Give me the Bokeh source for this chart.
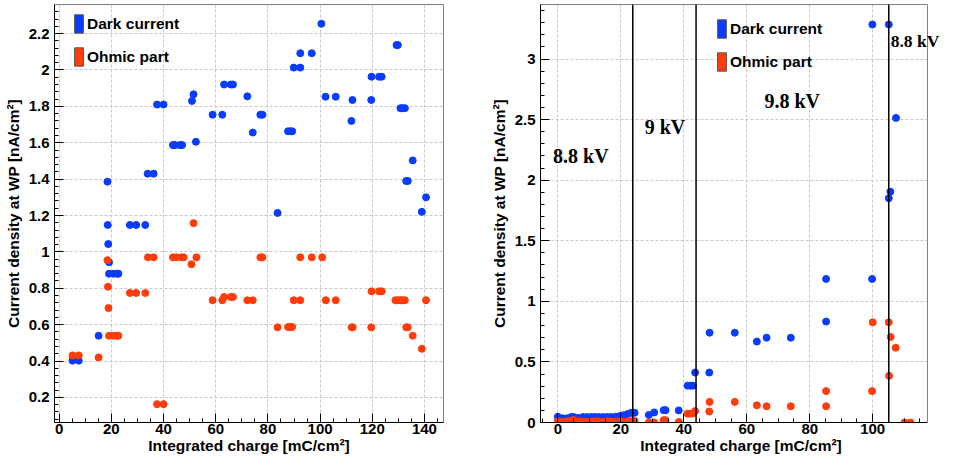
from bokeh.plotting import figure
from bokeh.layouts import row
from bokeh.models import (Range1d, Legend, LegendItem, Span, SingleIntervalTicker,
                          CustomJSTickFormatter, Label, LinearAxis, FixedTicker)
from bokeh.embed import file_html
from bokeh.resources import INLINE

BLUE = "#0a3cff"
ORANGE = "#ff3c0a"
NAN = float("nan")

# ---------------- left panel data ----------------
x_dark_left = [5.1, 7.5, 15.1, 18.5, 18.6, 18.8, 19.1, 19.1, 20.8, 22.1, 22.7, 27.1, 29.5, 33.0,
               33.9, 36.2, 37.5, 40.0, 43.6, 44.4, 46.3, 47.1, 50.9, 51.5, 52.4, 58.8, 62.5,
               63.2, 65.8, 66.6, 72.1, 74.2, 77.1, 77.9, 83.7, 87.7, 88.6, 89.3, 89.9, 92.4,
               92.4, 96.8, 100.5, 102.1, 106.0, 112.0, 112.4, 119.6, 119.7, 122.6, 123.6,
               129.3, 129.8, 130.8, 131.6, 132.5, 133.0, 133.6, 135.5, 139.0, 140.6]
y_dark_left = [0.402, 0.402, 0.539, 1.386, 1.148, 1.043, 0.943, 0.88, 0.88, 0.88, 0.88, 1.148,
               1.148, 1.148, 1.43, 1.43, 1.81, 1.81, 1.587, 1.587, 1.587, 1.587, 1.83, 1.866,
               1.605, 1.754, 1.754, 1.92, 1.92, 1.92, 1.855, 1.656, 1.754, 1.754, 1.214, 1.663,
               1.663, 1.663, 2.013, 2.013, 2.092, 2.092, 2.254, 1.853, 1.853, 1.72, 1.835, 1.835,
               1.963, 1.963, 1.963, 2.137, 2.137, 1.79, 1.79, 1.79, 1.39, 1.39, 1.503, 1.22, 1.30]
x_ohm_left = [5.1, 7.5, 15.1, 18.5, 18.7, 18.9, 19.1, 20.8, 22.1, 22.7, 27.1, 29.5, 33.0, 34.0,
              36.2, 37.5, 40.0, 43.6, 44.9, 46.8, 47.7, 50.7, 51.5, 52.6, 58.8, 62.5, 63.2, 65.8,
              66.6, 72.1, 74.2, 77.1, 77.9, 83.7, 87.7, 88.6, 89.3, 89.9, 92.4, 92.4, 96.8, 100.8,
              102.2, 106.0, 112.1, 112.5, 119.6, 119.7, 122.6, 123.6, 128.9, 129.8, 130.8, 131.6,
              132.5, 133.0, 133.6, 135.5, 139.0, 140.6]
y_ohm_left = [0.431, 0.431, 0.42, 0.954, 0.808, 0.691, 0.539, 0.539, 0.539, 0.539, 0.774, 0.774,
              0.774, 0.97, 0.97, 0.163, 0.163, 0.97, 0.97, 0.97, 0.97, 0.932, 1.158, 0.97, 0.734,
              0.734, 0.752, 0.752, 0.752, 0.734, 0.734, 0.97, 0.97, 0.585, 0.587, 0.587, 0.587,
              0.734, 0.734, 0.97, 0.97, 0.97, 0.734, 0.734, 0.585, 0.585, 0.585, 0.783, 0.783,
              0.783, 0.734, 0.734, 0.734, 0.734, 0.734, 0.585, 0.585, 0.539, 0.467, 0.734]

# ---------------- right panel data ----------------
x_dark_right = [0, 1.5, 3, 4.3, 5.0, 6.5, 8.0, 9.3, 10.6, 11.8, 13.0, 14.4, 15.7, 16.9, 18.4,
                19.9, 20.9, 22.2, 23.3, 24.4, 28.9, 30.6, 33.6, 34.2, 38.4, 41.2, 42.1, 42.9,
                43.6, 48.1, 48.2, 56.2, 63.2, 66.3, 74.0, 85.2, 85.2, 99.8, 99.9, 105.1, 105.1,
                105.6, 107.4]
y_dark_right = [0.048, 0.035, 0.035, 0.045, 0.045, 0.038, 0.045, 0.045, 0.045, 0.045, 0.045,
                0.045, 0.045, 0.045, 0.048, 0.055, 0.06, 0.07, 0.08, 0.08, 0.062, 0.083, 0.102,
                0.102, 0.10, 0.304, 0.304, 0.304, 0.412, 0.412, 0.741, 0.741, 0.668, 0.70, 0.70,
                0.833, 1.185, 1.185, 3.285, 3.285, 1.851, 1.905, 2.514]
x_ohm_right = [0, 1.5, 3, 4.3, 5.0, 6.5, 8.0, 9.3, 10.6, 11.8, 13.0, 14.4, 15.7, 16.9, 18.4,
               19.9, 20.9, 22.2, 23.3, 24.4, 28.9, 30.6, 33.6, 34.2, 38.4, 41.2, 42.1, 42.9,
               43.6, 48.1, 48.2, 56.2, 63.2, 66.3, 74.0, 85.2, 85.2, 99.8, 100.0, 105.1, 105.2,
               105.7, 107.3, 110.1, 112.0]
y_ohm_right = [0.01, 0.005, 0.01, 0.015, 0.02, 0.01, 0.008, 0.005, 0.008, 0.01, 0.01, 0.005,
               0.01, 0.008, 0.005, 0.01, 0.005, 0.008, 0.01, 0.012, 0.0, 0.0, 0.019, 0.019,
               0.005, 0.073, 0.073, 0.075, 0.094, 0.091, 0.17, 0.17, 0.142, 0.134, 0.134, 0.134,
               0.259, 0.259, 0.827, 0.827, 0.385, 0.706, 0.617, 0.0, 0.0]

hv_change_x = [23.8, 43.9, 105.1]
hv_labels = ["8.8 kV", "9 kV", "9.8 kV", "8.8 kV"]
hv_label_x = [-1.5, 27.6, 65.6, 105.7]
hv_label_y = [2.2, 2.44, 2.65, 3.15]
hv_label_size = ["20px", "20px", "20px", "17.5px"]

XTITLE = "Integrated charge [mC/cm\u00b2]"
YTITLE = "Current density at WP [nA/cm\u00b2]"
SANS = "Liberation Sans"
FRAME = "#808080"

LEFT_X = (-1.8, 147.3)
LEFT_Y = (0.062, 2.36)
RIGHT_X = (-5.5, 117.4)
RIGHT_Y = (0.0, 3.45)


def style(p, xint, xminor, yint, yminor):
    p.background_fill_color = "white"
    p.border_fill_color = "white"
    p.outline_line_color = FRAME
    xt = SingleIntervalTicker(interval=xint, num_minor_ticks=xminor)
    yt = SingleIntervalTicker(interval=yint, num_minor_ticks=yminor)
    p.xaxis.ticker = xt
    p.yaxis.ticker = yt
    p.xgrid.ticker = xt
    p.ygrid.ticker = yt
    for ax in (p.xaxis[0], p.yaxis[0]):
        ax.formatter = CustomJSTickFormatter(code="return String(Number(tick.toFixed(3)));")
        ax.major_tick_in = 9
        ax.major_tick_out = 0
        ax.minor_tick_in = 4
        ax.minor_tick_out = 0
        ax.axis_line_color = "black"
        ax.major_tick_line_color = "black"
        ax.minor_tick_line_color = "black"
        ax.major_label_text_font = SANS
        ax.major_label_text_font_style = "bold"
        ax.major_label_text_font_size = "15px"
        ax.major_label_text_color = "black"
        ax.axis_label_text_font = SANS
        ax.axis_label_text_font_style = "bold"
        ax.axis_label_text_font_size = "15.5px"
        ax.axis_label_text_color = "black"
    p.xaxis.major_label_standoff = 1
    p.xaxis.axis_label_standoff = 0
    p.yaxis.major_label_standoff = 5
    p.yaxis.axis_label_standoff = 4
    for g in (p.xgrid[0], p.ygrid[0]):
        g.grid_line_color = "#c8c8c8"
        g.grid_line_dash = "3 2"
        g.grid_line_width = 1
    p.xaxis.axis_label = XTITLE
    p.yaxis.axis_label = YTITLE


def add_legend(p, loc):
    rd = p.quad(left=[NAN], right=[NAN], top=[NAN], bottom=[NAN],
                fill_color=BLUE, line_color="#555555")
    ro = p.quad(left=[NAN], right=[NAN], top=[NAN], bottom=[NAN],
                fill_color=ORANGE, line_color="#555555")
    leg = Legend(items=[LegendItem(label="Dark current", renderers=[rd]),
                        LegendItem(label="Ohmic part", renderers=[ro])],
                 location=loc)
    leg.glyph_width = 11
    leg.glyph_height = 23
    leg.label_height = 23
    leg.label_standoff = 3
    leg.spacing = 10
    leg.padding = 0
    leg.margin = 0
    leg.border_line_color = None
    leg.background_fill_alpha = 0
    leg.label_text_font = SANS
    leg.label_text_font_style = "bold"
    leg.label_text_font_size = "15.5px"
    leg.label_text_color = "black"
    p.add_layout(leg)


H = 456

# ---------------- left figure ----------------
left = figure(width=480, height=H, output_backend="svg", toolbar_location=None,
              x_range=Range1d(*LEFT_X), y_range=Range1d(*LEFT_Y),
              min_border_left=54, min_border_right=37, min_border_top=4, min_border_bottom=25)
style(left, 20, 4, 0.2, 5)
left.scatter(x_dark_left, y_dark_left, size=7, color=BLUE)
left.scatter(x_ohm_left, y_ohm_left, size=7, color=ORANGE)
add_legend(left, (19, 354))

# ---------------- right figure ----------------
RW = 461
R_BORDER_L = 60
frame_px = 927 - 540            # visible frame width of the reference panel
extra_px = RW - R_BORDER_L - frame_px
px_per_unit = frame_px / (RIGHT_X[1] - RIGHT_X[0])
x_end_ext = RIGHT_X[1] + extra_px / px_per_unit

right = figure(width=RW, height=H, output_backend="svg", toolbar_location=None,
               x_range=Range1d(RIGHT_X[0], x_end_ext), y_range=Range1d(*RIGHT_Y),
               min_border_left=R_BORDER_L, min_border_right=0, min_border_top=4,
               min_border_bottom=25)
style(right, 20, 4, 0.5, 5)
right.outline_line_color = None
right.xaxis.bounds = RIGHT_X
right.xgrid.bounds = RIGHT_X
yg = right.ygrid[0]
if "cross_bounds" in yg.properties():
    yg.cross_bounds = RIGHT_X

top_axis = LinearAxis(ticker=FixedTicker(ticks=[]), bounds=RIGHT_X, axis_line_color=FRAME,
                      major_tick_in=0, major_tick_out=0, minor_tick_in=0, minor_tick_out=0,
                      major_label_standoff=0, major_label_text_font_size="0px")
right.add_layout(top_axis, "above")
right.add_layout(Span(location=RIGHT_X[1], dimension="height", line_color=FRAME, line_width=1))

for xv in hv_change_x:
    right.add_layout(Span(location=xv, dimension="height", line_color="black", line_width=1.5))
right.scatter(x_dark_right, y_dark_right, size=7, color=BLUE)
right.scatter(x_ohm_right, y_ohm_right, size=7, color=ORANGE)
for tx, ty, tt, ts in zip(hv_label_x, hv_label_y, hv_labels, hv_label_size):
    right.add_layout(Label(x=tx, y=ty, text=tt, text_font="Liberation Serif",
                           text_font_style="bold", text_font_size=ts, text_align="left",
                           text_baseline="middle", text_color="black"))
add_legend(right, (176, 349))

layout = row(left, right)
open("out.html", "w").write(file_html(layout, INLINE))
